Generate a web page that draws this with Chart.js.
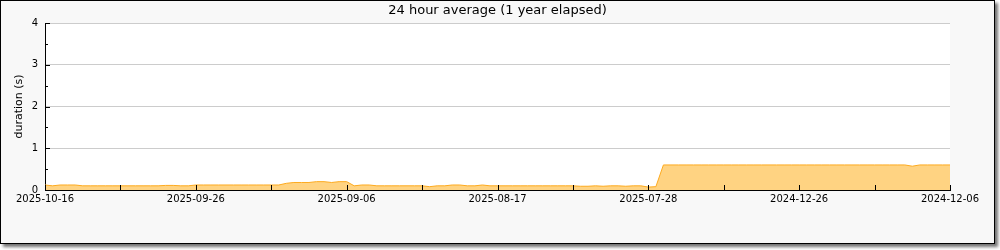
<!DOCTYPE html>
<html>
<head>
<meta charset="utf-8">
<script src="https://cdn.jsdelivr.net/npm/chart.js@4"></script>
<style>
  body { margin: 0; background: #fff; }
  #frame {
    position: absolute; left: 0; top: 0;
    width: 993px; height: 242px;
    border: 1px solid #000;
    background: #f8f8f8;
    box-shadow: 3px 3px 3px rgba(0, 0, 0, 0.55);
  }
  #chart { display: block; }
</style>
</head>
<body>
<div id="frame"><canvas id="chart" width="993" height="242"></canvas></div>
<script>
// x axis runs back in time, one point per day (gap in the data after 2025-07-27)
const segmentStarts = ['2025-10-16', '2025-01-13'];
const segmentLengths = [82, 39];
const tickLabels = ['2025-10-16', '2025-09-26', '2025-09-06', '2025-08-17', '2025-07-28', '2024-12-26', '2024-12-06'];

const durations = [
  0.12, 0.1, 0.12, 0.12, 0.12, 0.1, 0.1, 0.1, 0.1, 0.1,
  0.1, 0.1, 0.1, 0.1, 0.1, 0.1, 0.11, 0.11, 0.1, 0.1,
  0.12, 0.12, 0.12, 0.12, 0.12, 0.12, 0.12, 0.12, 0.12, 0.12,
  0.12, 0.12, 0.16, 0.18, 0.18, 0.18, 0.2, 0.2, 0.18, 0.2,
  0.2, 0.1, 0.12, 0.12, 0.1, 0.1, 0.1, 0.1, 0.1, 0.1,
  0.1, 0.08, 0.1, 0.1, 0.12, 0.12, 0.1, 0.1, 0.12, 0.1,
  0.1, 0.1, 0.1, 0.1, 0.1, 0.1, 0.1, 0.1, 0.1, 0.1,
  0.1, 0.09, 0.09, 0.1, 0.09, 0.1, 0.1, 0.09, 0.1, 0.1,
  0.07, 0.08, 0.6, 0.6, 0.6, 0.6, 0.6, 0.6, 0.6, 0.6,
  0.6, 0.6, 0.6, 0.6, 0.6, 0.6, 0.6, 0.6, 0.6, 0.6,
  0.6, 0.6, 0.6, 0.6, 0.6, 0.6, 0.6, 0.6, 0.6, 0.6,
  0.6, 0.6, 0.6, 0.6, 0.6, 0.57, 0.6, 0.6, 0.6, 0.6,
  0.6
];

// build the daily category labels
const days = [];
segmentStarts.forEach((start, s) => {
  const d0 = new Date(start + 'T00:00:00Z');
  for (let i = 0; i < segmentLengths[s]; i++) {
    const d = new Date(d0.getTime() - i * 86400000);
    days.push(d.toISOString().slice(0, 10));
  }
});

// white plot background
const plotBg = {
  id: 'plotBg',
  beforeDraw(chart) {
    const a = chart.chartArea, ctx = chart.ctx;
    ctx.save();
    ctx.fillStyle = '#fff';
    ctx.fillRect(a.left, a.top, a.right - a.left, a.bottom - a.top);
    ctx.restore();
  }
};

// tick marks pointing into the plot
const innerTicks = {
  id: 'innerTicks',
  afterDraw(chart) {
    const ctx = chart.ctx, x = chart.scales.x, y = chart.scales.y;
    ctx.save();
    ctx.strokeStyle = '#000';
    ctx.lineWidth = 1;
    ctx.beginPath();
    x.ticks.forEach((t, i) => {
      const px = Math.round(x.getPixelForTick(i)) + 0.5;
      ctx.moveTo(px, y.bottom);
      ctx.lineTo(px, y.bottom - 5);
    });
    for (let v = 0; v <= 4; v += 0.5) {
      const py = Math.round(y.getPixelForValue(v)) + 0.5;
      ctx.moveTo(x.left, py);
      ctx.lineTo(x.left + (v % 1 === 0 ? 5 : 3), py);
    }
    ctx.stroke();
    ctx.restore();
  }
};

new Chart(document.getElementById('chart'), {
  type: 'line',
  data: {
    labels: days,
    datasets: [{
      data: durations,
      borderColor: '#fdaa1f',
      backgroundColor: '#ffd382',
      borderWidth: 1,
      pointRadius: 0,
      tension: 0,
      fill: 'origin'
    }]
  },
  options: {
    responsive: false,
    animation: false,
    layout: { padding: 0 },
    plugins: {
      legend: { display: false },
      tooltip: { enabled: false },
      title: {
        display: true,
        text: '24 hour average (1 year elapsed)',
        color: '#000',
        font: { family: 'DejaVu Sans', size: 13, weight: 'normal' },
        padding: { top: 2, bottom: 4.4 }
      }
    },
    scales: {
      x: {
        type: 'category',
        offset: false,
        afterBuildTicks(scale) {
          scale.ticks = scale.ticks.filter(t => t.value % 10 === 0);
        },
        afterFit(scale) { scale.height = 53; },
        grid: { display: true, drawOnChartArea: false, drawTicks: false },
        border: { display: true, color: '#000', width: 1 },
        ticks: {
          autoSkip: false,
          maxRotation: 0,
          padding: 3,
          color: '#000',
          font: { family: 'DejaVu Sans', size: 10 },
          callback(value) {
            return value % 20 === 0 ? tickLabels[value / 20] : '';
          }
        }
      },
      y: {
        min: 0,
        max: 4,
        afterFit(scale) { scale.width = 44; },
        grid: { color: '#cccccc', drawTicks: false },
        border: { display: true, color: '#000', width: 1 },
        ticks: {
          stepSize: 1,
          padding: 7,
          color: '#000',
          font: { family: 'DejaVu Sans', size: 10 }
        },
        title: {
          display: true,
          text: 'duration (s)',
          color: '#000',
          font: { family: 'DejaVu Sans', size: 11 },
          padding: { top: 12, bottom: 0 }
        }
      },
      // empty right-hand strip so the plot stops short of the frame
      pad: {
        type: 'linear',
        position: 'right',
        afterFit(scale) { scale.width = 44; },
        grid: { display: false, drawTicks: false },
        border: { display: false },
        ticks: { display: false }
      }
    }
  },
  plugins: [plotBg, innerTicks]
});
</script>
</body>
</html>
